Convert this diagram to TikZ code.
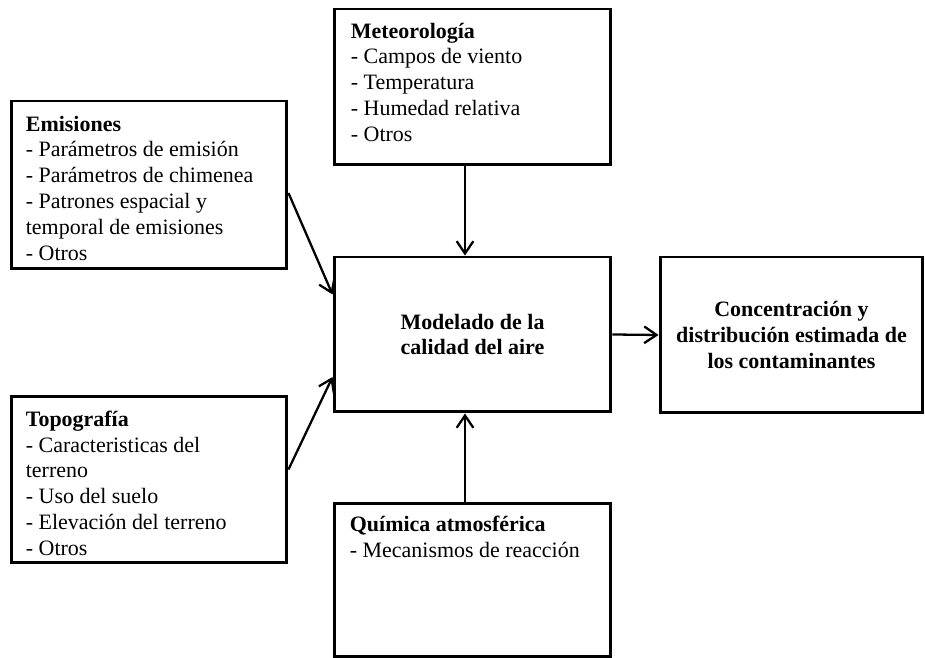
\documentclass[tikz,border=0pt]{standalone}
\usepackage{fontspec}
\setmainfont{Liberation Serif}
\usetikzlibrary{positioning, arrows.meta}

\tikzset{
	caja/.style={draw, line width=1.7pt, inner sep=0pt},
	texto/.style={inner sep=0pt, align=left, anchor=north west, font=\fontsize{12.5}{14.7}\selectfont},
	titulo/.style={inner sep=0pt, align=center, font=\fontsize{12.5}{14.7}\selectfont\bfseries},
	flecha/.style={line width=1.3pt, -{Straight Barb[length=7pt,width=9.5pt]}}
}

\begin{document}
\begin{tikzpicture}[x=0.02cm, y=0.02cm]
				\useasboundingbox (0,0) rectangle (925,658);
				\node[caja, minimum width=5.54cm, minimum height=3.12cm] (met) at (472.5,571) {};
				\node[caja, minimum width=5.52cm, minimum height=3.36cm] (emi) at (149,473) {};
				\node[caja, minimum width=5.54cm, minimum height=3.10cm] (mod) at (472.5,323.5) {};
				\node[caja, minimum width=5.26cm, minimum height=3.12cm] (conc) at (791.5,323) {};
				\node[caja, minimum width=5.52cm, minimum height=3.34cm] (topo) at (149,178.5) {};
				\node[caja, minimum width=5.54cm, minimum height=3.08cm] (quim) at (472.5,78) {};

				\node[texto] (met-t) at ([shift={(0.36cm,-0.30cm)}]met.north west)
				{\textbf{Meteorología}\\- Campos de viento\\- Temperatura\\- Humedad relativa\\- Otros};
				\node[texto] (emi-t) at ([shift={(0.32cm,-0.32cm)}]emi.north west)
				{\textbf{Emisiones}\\- Parámetros de emisión\\- Parámetros de chimenea\\- Patrones espacial y\\temporal de emisiones\\- Otros};
				\node[texto] (topo-t) at ([shift={(0.32cm,-0.32cm)}]topo.north west)
				{\textbf{Topografía}\\- Caracteristicas del\\terreno\\- Uso del suelo\\- Elevación del terreno\\- Otros};
				\node[texto] (quim-t) at ([shift={(0.34cm,-0.28cm)}]quim.north west)
				{\textbf{Química atmosférica}\\- Mecanismos de reacción};
				\node[titulo] (mod-t) at (mod) {Modelado de la\\calidad del aire};
				\node[titulo] (conc-t) at (conc) {Concentración y\\distribución estimada de\\los contaminantes};

				\draw[flecha] ([xshift=-0.15cm]met.south) -- ([xshift=-0.15cm]mod.north);
				\draw[flecha] ([xshift=-0.15cm]quim.north) -- ([xshift=-0.15cm]mod.south);
				\draw[flecha] ([yshift=-0.16cm]emi.east) -- ([yshift=0.8cm]mod.west);
				\draw[flecha] ([yshift=0.2cm]topo.east) -- ([yshift=-0.85cm]mod.west);
				\draw[flecha] (mod.east) -- (conc.west);
\end{tikzpicture}
\end{document}
